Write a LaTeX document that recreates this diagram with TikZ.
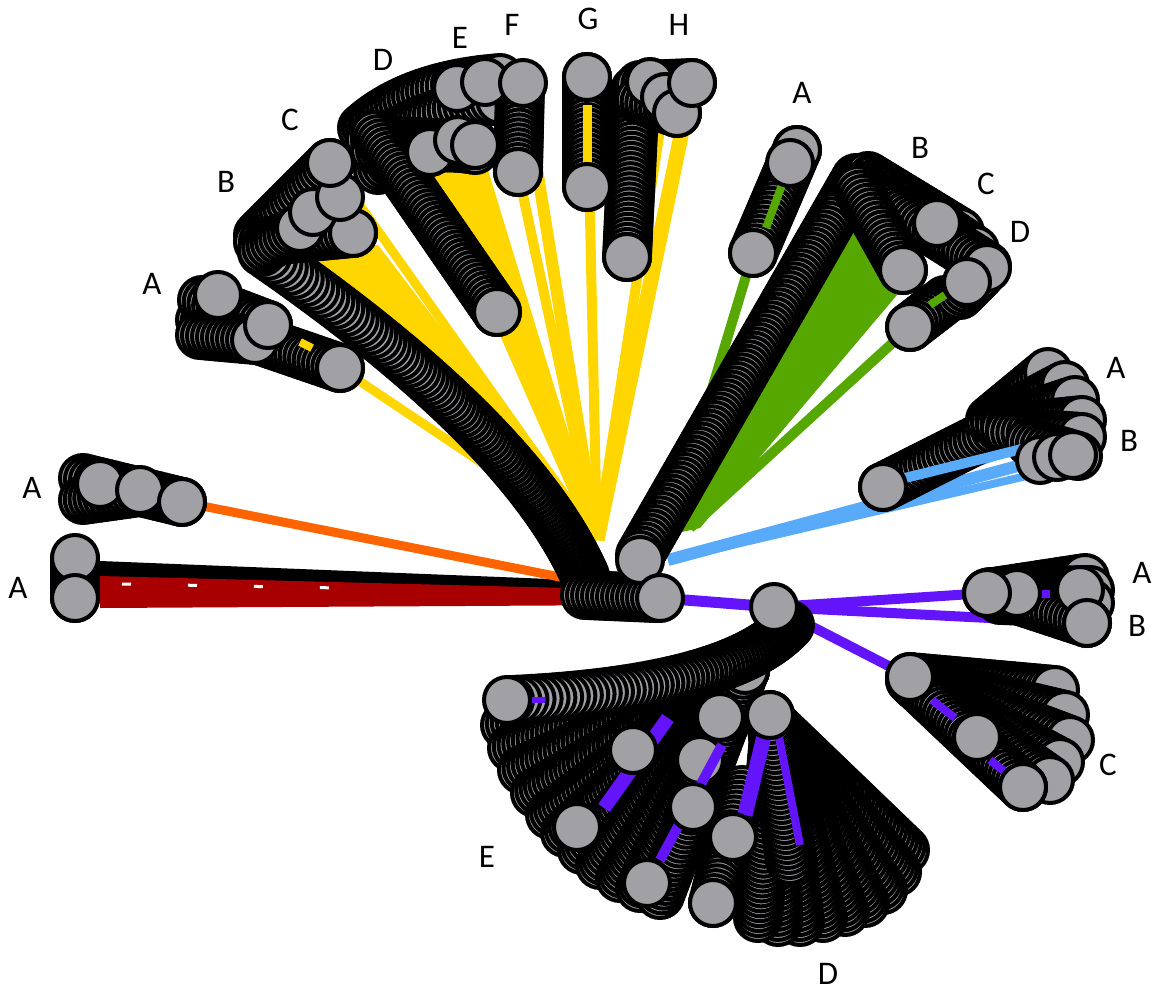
\documentclass[tikz,border=0pt]{standalone}
\usepackage{fontspec}
\setmainfont{Carlito}
\definecolor{ballgrey}{RGB}{160,160,165}
\definecolor{eyellow}{RGB}{255,214,0}
\definecolor{egreen}{RGB}{86,168,0}
\definecolor{eblue}{RGB}{90,170,250}
\definecolor{epurple}{RGB}{100,20,250}
\definecolor{eorange}{RGB}{255,100,0}
\definecolor{ered}{RGB}{168,0,0}
\tikzset{
  ring/.style={draw=black, fill=ballgrey, line width=4pt},
  ball/.style={circle, draw=black, fill=ballgrey, line width=4pt, minimum size=46pt, inner sep=0pt},
  lbl/.style={font=\fontsize{33}{33}\selectfont, inner sep=0pt},
  yedge/.style={draw=eyellow, line width=#1}, yedge/.default=10pt,
  gedge/.style={draw=egreen, line width=#1}, gedge/.default=10pt,
  bedge/.style={draw=eblue, line width=#1}, bedge/.default=10pt,
  pedge/.style={draw=epurple, line width=#1}, pedge/.default=10pt,
}
% straight stack of overlapping rings from (#1,#2) to (#3,#4); the last one drawn is on top
\newcommand\lchain[4]{%
  \pgfmathsetmacro\chL{veclen(#3-#1,#4-#2)}%
  \pgfmathtruncatemacro\chN{max(1,round(\chL/5))}%
  \foreach \k in {0,...,\chN}{%
    \pgfmathsetmacro\chT{\k/\chN}%
    \path[ring] ({#1+(#3-#1)*\chT},{#2+(#4-#2)*\chT}) circle[radius=23pt];
  }}
% curved stack of rings along a quadratic curve (#1,#2) -> control (#3,#4) -> (#5,#6)
\newcommand\qchain[6]{%
  \pgfmathsetmacro\chL{0.5*(veclen(#3-#1,#4-#2)+veclen(#5-#3,#6-#4)+veclen(#5-#1,#6-#2))}%
  \pgfmathtruncatemacro\chN{max(1,round(\chL/5))}%
  \foreach \k in {0,...,\chN}{%
    \pgfmathsetmacro\chT{\k/\chN}%
    \pgfmathsetmacro\chX{(1-\chT)*(1-\chT)*#1+2*(1-\chT)*\chT*#3+\chT*\chT*#5}%
    \pgfmathsetmacro\chY{(1-\chT)*(1-\chT)*#2+2*(1-\chT)*\chT*#4+\chT*\chT*#6}%
    \path[ring] (\chX,\chY) circle[radius=23pt];
  }}
\begin{document}
\begin{tikzpicture}[x=1pt,y=-1pt]
\useasboundingbox (0,0) rectangle (1159,993);

% ---------- positions ----------
\coordinate (hy) at (597,540);
\coordinate (hg) at (676,508);
\coordinate (hgw) at (690,528);
\coordinate (hb) at (668,560);
\coordinate (ho) at (565,578);
\coordinate (H1) at (640,560);
\coordinate (H0) at (660,598);
\coordinate (H2) at (774,607);
\coordinate (la1) at (75,558);   \coordinate (la2) at (75,598);
\coordinate (lb1) at (100,484);  \coordinate (lb2) at (140,490);  \coordinate (lb3) at (182,502);
\coordinate (ua1) at (218,295);  \coordinate (ua2) at (268,325);  \coordinate (ua3) at (340,368);
\coordinate (bc1) at (330,163);  \coordinate (bc2) at (340,197);  \coordinate (bc3) at (313,212);
\coordinate (bc4) at (300,228);  \coordinate (bc5) at (353,233);
\coordinate (d1) at (430,152);   \coordinate (d2) at (458,140);   \coordinate (d3) at (475,145);
\coordinate (d4) at (497,312);
\coordinate (e1) at (457,88);    \coordinate (e2) at (485,82);
\coordinate (f1) at (523,83);    \coordinate (f2) at (518,172);
\coordinate (g1) at (587,77);    \coordinate (g2) at (587,187);
\coordinate (h1) at (650,82);    \coordinate (h2) at (665,97);    \coordinate (h3) at (692,83);
\coordinate (h4) at (677,113);   \coordinate (h5) at (627,257);
\coordinate (ga1) at (797,150);  \coordinate (ga2) at (790,163);  \coordinate (ga3) at (753,253);
\coordinate (gb1) at (937,223);  \coordinate (gb2) at (903,270);  \coordinate (gb3) at (967,282);
\coordinate (gb4) at (987,268);  \coordinate (gb5) at (910,327);
\coordinate (bl1) at (883,487);  \coordinate (bl2) at (1073,455); \coordinate (bl3) at (1057,457);
\coordinate (bl4) at (1040,460);
\coordinate (pa1) at (1017,593); \coordinate (pa2) at (987,593);  \coordinate (pa3) at (1080,590);
\coordinate (pa4) at (1087,623);
\coordinate (pc1) at (910,677);  \coordinate (pc2) at (977,737);  \coordinate (pc3) at (1023,787);
\coordinate (eb1) at (507,700);  \coordinate (eb2) at (633,750);  \coordinate (eb3) at (577,827);
\coordinate (eb4) at (647,883);  \coordinate (eb5) at (693,807);  \coordinate (eb6) at (720,717);
\coordinate (db1) at (770,715);  \coordinate (db2) at (733,837);  \coordinate (db3) at (713,903);

% ---------- edges beneath the nodes ----------
% red bundle with its dark companion
\fill[black] (100,561) -- (600,581) -- (600,593) -- (100,578) -- cycle;
\fill[ered] (100,576) -- (645,590) -- (645,605) -- (100,608) -- cycle;
\draw[white, line width=3pt, dash pattern=on 9pt off 57pt] (122,584) -- (340,588);
% orange
\draw[eorange, line width=9pt] (lb3) -- (ho);
% yellow
\draw[yedge=9pt] (ua3) -- (hy);
\fill[eyellow] (283,252) -- (378,245) -- (602,538) -- (586,545) -- cycle;
\fill[eyellow] (425,165) -- (485,160) -- (600,538) -- (590,540) -- cycle;
\draw[yedge=9pt] (bc1) -- (hy);
\draw[yedge=9pt] (d1) -- (hy);
\draw[yedge=9pt] (e1) -- (hy);
\draw[yedge=12pt] (f1) -- (hy);
\draw[yedge=10pt] (f2) -- (hy);
\draw[yedge=10pt] (g1) -- (hy);
\draw[yedge=10pt] (h2) -- (hy);
\draw[yedge=15pt] (h3) -- (hy);
% green
\draw[gedge=10pt] (ga3) -- (hg);
\fill[egreen] (668,535) -- (700,528) -- (897,295) -- (852,212) -- cycle;
\draw[gedge=10pt] (gb5) -- (hgw);
% blue
\draw[bedge=12pt] (hb) -- (bl4);
\draw[bedge=8pt] (hb) -- (1035,474);
\fill[eblue] (885,478) -- (1005,428) -- (1035,447) -- (890,497) -- cycle;
% purple
\draw[pedge=11pt] (H0) -- (H2);
\draw[pedge=10pt] (H2) -- (pa2);
\draw[pedge=10pt] (H2) -- (pa4);
\draw[pedge=10pt] (H2) -- (pc1);

% ---------- stacked node bands ----------
% bands into the central hub
\qchain{585}{576}{520}{430}{262}{252}
\lchain{585}{595}{655}{598}
\lchain{856}{178}{640}{555}
% left clusters
\lchain{75}{560}{75}{598}
\lchain{83}{478}{182}{502}
\lchain{83}{500}{140}{492}
\lchain{200}{320}{340}{368}
\lchain{202}{300}{268}{325}
\lchain{200}{335}{255}{340}
% B / C
\lchain{258}{235}{330}{163}
\lchain{258}{242}{353}{233}
\lchain{262}{250}{300}{228}
% D / E / F
\qchain{362}{128}{410}{85}{500}{78}
\qchain{370}{150}{420}{110}{500}{100}
\qchain{378}{170}{420}{140}{475}{150}
\lchain{370}{140}{475}{145}
\lchain{375}{150}{430}{152}
\lchain{375}{135}{497}{312}
\lchain{520}{88}{518}{172}
% G / H
\lchain{587}{77}{587}{187}
\lchain{635}{90}{627}{257}
\lchain{640}{85}{692}{83}
\lchain{640}{100}{677}{113}
% green A and B/C/D
\lchain{797}{150}{753}{253}
\lchain{860}{182}{937}{223}
\lchain{868}{176}{960}{232}
\lchain{872}{180}{975}{250}
\lchain{860}{186}{987}{266}
\lchain{858}{190}{903}{270}
\lchain{945}{300}{910}{327}
\lchain{960}{295}{980}{275}
% blue A/B
\lchain{883}{487}{1000}{428}
\lchain{990}{420}{1048}{372}
\lchain{995}{422}{1065}{385}
\lchain{1000}{425}{1075}{400}
\lchain{1005}{428}{1082}{420}
\lchain{1010}{432}{1082}{437}
\lchain{1030}{442}{1078}{456}
% purple A/B
\lchain{987}{593}{1085}{578}
\lchain{990}{592}{1090}{590}
\lchain{1000}{600}{1090}{603}
\lchain{1017}{600}{1087}{623}
% purple C
\lchain{910}{677}{1055}{690}
\lchain{915}{680}{1065}{715}
\lchain{910}{680}{1070}{740}
\lchain{915}{685}{1060}{762}
\lchain{915}{685}{1050}{780}
\lchain{910}{680}{1023}{787}
% lower fan E, drawn from the rim inwards
\foreach \rx/\ry in {505/725,512/748,522/770,535/793,550/815,565/833,582/850,
                     600/865,620/878,640/888,660/895}
  {\lchain{\rx}{\ry}{745}{670}}
\lchain{693}{807}{700}{760}
% lower fan D, drawn from the rim inwards
\foreach \rx/\ry in {905/850,897/872,883/890,865/903,845/912,823/918,800/922,
                     778/922,758/918}
  {\lchain{\rx}{\ry}{775}{725}}
\lchain{790}{860}{770}{715}
\lchain{742}{790}{713}{903}
% arc leaving the second hub
\qchain{790}{625}{730}{690}{510}{700}

% ---------- edge segments showing between stacked nodes ----------
\draw[yedge=9pt] (587,105) -- (587,165);
\draw[yedge=8pt] (300,342) -- (312,348);
\draw[gedge=8pt] (782,185) -- (766,228);
\draw[gedge=8pt] (930,305) -- (945,295);
\draw[bedge=10pt] (905,478) -- (1030,447);
\draw[pedge=14pt] (668,718) -- (604,808);
\draw[pedge=10pt] (722,745) -- (660,860);
\draw[pedge=15pt] (765,732) -- (745,815);
\draw[pedge=8pt] (778,732) -- (800,845);
\draw[pedge=8pt] (932,700) -- (955,718);
\draw[pedge=8pt] (990,760) -- (1005,772);
\draw[pedge=8pt] (1035,594) -- (1050,594);
\draw[pedge=6pt] (530,700) -- (545,700);

% ---------- visible nodes ----------
\foreach \n in {la1,la2,lb1,lb2,lb3,ua1,ua2,ua3,bc5,bc4,bc3,bc2,bc1,
  d1,d2,d3,d4,e1,e2,f1,f2,g1,g2,h1,h2,h4,h3,h5,ga1,ga2,ga3,
  gb1,gb4,gb3,gb2,gb5,bl4,bl3,bl2,bl1,pa1,pa2,pa3,pa4,pc3,pc2,pc1,
  eb2,eb3,eb4,eb5,eb6,eb1,db3,db2,db1,H1,H0,H2}
  \node[ball] (n-\n) at (\n) {};

% ---------- labels ----------
\node[lbl] (t-la) at (18,588) {A};
\node[lbl] (t-lb) at (32,488) {A};
\node[lbl] (t-ya) at (152,284) {A};
\node[lbl] (t-yb) at (226,182) {B};
\node[lbl] (t-yc) at (290,120) {C};
\node[lbl] (t-yd) at (383,60) {D};
\node[lbl] (t-ye) at (460,38) {E};
\node[lbl] (t-yf) at (512,25) {F};
\node[lbl] (t-yg) at (588,19) {G};
\node[lbl] (t-yh) at (679,25) {H};
\node[lbl] (t-ga) at (802,93) {A};
\node[lbl] (t-gb) at (920,148) {B};
\node[lbl] (t-gc) at (986,184) {C};
\node[lbl] (t-gd) at (1020,232) {D};
\node[lbl] (t-ba) at (1116,368) {A};
\node[lbl] (t-bb) at (1129,441) {B};
\node[lbl] (t-pa) at (1142,573) {A};
\node[lbl] (t-pb) at (1137,626) {B};
\node[lbl] (t-pc) at (1108,765) {C};
\node[lbl] (t-pe) at (487,857) {E};
\node[lbl] (t-pd) at (828,974) {D};
\end{tikzpicture}
\end{document}
